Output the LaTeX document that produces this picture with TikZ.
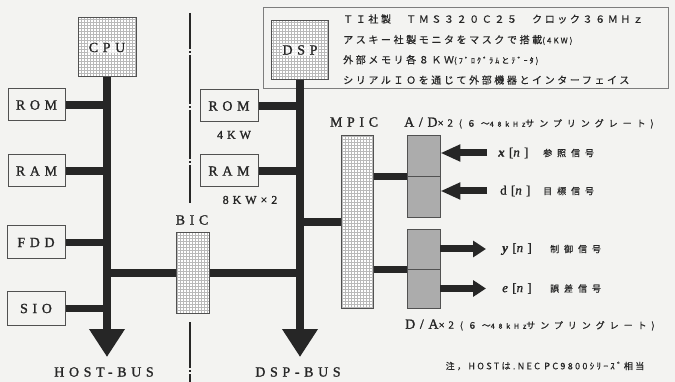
\documentclass[tikz,border=0pt]{standalone}
\usepackage{fontspec}
\setmainfont{Liberation Serif}
\newfontfamily\lbl[LetterSpace=33,FakeBold=1.3]{Liberation Serif}
\newfontfamily\jp[LetterSpace=26,FakeBold=0.5]{Noto Sans CJK JP}
\newfontfamily\jps[LetterSpace=55,FakeBold=0.8]{Noto Sans CJK JP}
\usetikzlibrary{arrows.meta,patterns}
\definecolor{bg}{RGB}{243,243,241}
\definecolor{ink}{RGB}{38,38,38}
\definecolor{boxgray}{RGB}{172,172,172}
\begin{document}
\begin{tikzpicture}[x=1pt,y=-1pt,
  plain/.style={draw=ink!80, line width=1pt, fill=bg, inner sep=0pt,
    font=\lbl\fontsize{14}{14}\selectfont, text=ink},
  gridbox/.style={draw=ink!80, line width=1pt, inner sep=0pt,
    preaction={fill=white}, pattern=grid, pattern color=gray!55},
  adbox/.style={draw=ink!80, line width=0.9pt, fill=boxgray, minimum width=33pt, inner sep=0pt},
  bus/.style={draw=ink, line width=7.5pt},
  busarrow/.style={draw=ink, line width=7.5pt, -{Triangle[width=34pt,length=28pt]}},
  sigin/.style={draw=ink, line width=7pt, -{Triangle[width=16pt,length=20pt]}},
  sigout/.style={draw=ink, line width=7pt, -{Triangle[width=16pt,length=13pt]}},
  lab/.style={font=\lbl\fontsize{14}{14}\selectfont, text=ink, inner sep=0pt},
  boxlab/.style={lab, fill=white, fill opacity=0.7, text opacity=1, inner sep=1pt},
  small/.style={font=\lbl\fontsize{12}{12}\selectfont, text=ink, inner sep=0pt},
  jtext/.style={font=\jp\fontsize{10}{10}\selectfont, text=ink, inner sep=0pt, anchor=west},
  siglab/.style={font=\lbl\fontsize{13}{13}\selectfont, text=ink, inner sep=0pt, anchor=west},
  jsig/.style={font=\jps\fontsize{9}{9}\selectfont, text=ink, inner sep=0pt, anchor=west},
  sepline/.style={draw=ink, line width=1.2pt},
]
\fill[bg] (0,0) rectangle (675,382);
\useasboundingbox (0,0) rectangle (675,382);

% info box
\node[draw=ink!60, line width=0.8pt, minimum width=405pt, minimum height=81pt, inner sep=0pt] (info) at (465.5,47.5) {};
\node[jtext] (t1) at (343,19) {ＴＩ社製　ＴＭＳ３２０Ｃ２５　クロック３６ＭＨｚ};
\node[jtext] (t2) at (343,40) {アスキー社製モニタをマスクで搭載{\fontsize{8}{8}\selectfont(4KW)}};
\node[jtext] (t3) at (343,60) {外部メモリ各８ＫＷ{\fontsize{8}{8}\selectfont(ﾌﾟﾛｸﾞﾗﾑとﾃﾞｰﾀ)}};
\node[jtext] (t4) at (343,80) {シリアルＩＯを通じて外部機器とインターフェイス};

% host side nodes
\node[gridbox, minimum width=58pt, minimum height=59pt] (cpu) at (107,47.5) {};
\node[boxlab] (cpul) at (cpu.center) {CPU};
\node[plain, minimum width=57pt, minimum height=32pt] (rom1) at (36.5,105) {ROM};
\node[plain, minimum width=57pt, minimum height=32pt] (ram1) at (36.5,171) {RAM};
\node[plain, minimum width=58pt, minimum height=33pt] (fdd) at (36,242.5) {FDD};
\node[plain, minimum width=58pt, minimum height=33pt] (sio) at (36,308.5) {SIO};

% dsp side nodes
\node[gridbox, minimum width=57pt, minimum height=59pt] (dsp) at (300,50) {};
\node[boxlab] (dspl0) at (dsp.center) {DSP};
\node[plain, minimum width=58pt, minimum height=32pt] (rom2) at (229,106) {ROM};
\node[plain, minimum width=58pt, minimum height=32pt] (ram2) at (229,171) {RAM};
\node[small] (rom2l) at (234,135) {4KW};
\node[small] (ram2l) at (250,200) {8KW×2};

\node[gridbox, minimum width=33pt, minimum height=80pt] (bic) at (192.5,273) {};
\node[lab] (bicl) at (192,220) {BIC};
\node[gridbox, minimum width=32pt, minimum height=172pt] (mpic) at (357,222) {};
\node[lab] (mpicl) at (354,122) {MPIC};

\node[adbox, minimum height=41pt] (ad1) at (423.5,155.5) {};
\node[adbox, minimum height=41pt] (ad2) at (423.5,196.5) {};
\node[adbox, minimum height=40pt] (da1) at (423.5,249) {};
\node[adbox, minimum height=39pt] (da2) at (423.5,288.5) {};

\node[lab, anchor=west] (adl) at (404,123) {A/D{\fontsize{11}{11}\selectfont ×2}\hspace{6pt}{\jps\fontsize{9}{9}\selectfont (６〜{\fontsize{7}{7}\selectfont 48kHz}サンプリングレート)}};
\node[lab, anchor=west] (dal) at (405,325) {D/A{\fontsize{11}{11}\selectfont ×2}\hspace{6pt}{\jps\fontsize{9}{9}\selectfont (６〜{\fontsize{7}{7}\selectfont 48kHz}サンプリングレート)}};

% buses
\coordinate (hbend) at (107,357);
\coordinate (dbend) at (300,357);
\draw[busarrow] (cpu.south) -- (hbend);
\draw[busarrow] (dsp.south) -- (dbend);
\draw[bus] (rom1.east) -- (rom1.east -| cpu.south);
\draw[bus] (ram1.east) -- (ram1.east -| cpu.south);
\draw[bus] (fdd.east) -- (fdd.east -| cpu.south);
\draw[bus] (sio.east) -- (sio.east -| cpu.south);
\draw[bus] (bic.west -| cpu.south) -- (bic.west);
\draw[bus] (bic.east) -- (bic.east -| dsp.south);
\draw[bus] (rom2.east) -- (rom2.east -| dsp.south);
\draw[bus] (ram2.east) -- (ram2.east -| dsp.south);
\draw[bus] (mpic.west -| dsp.south) -- (mpic.west);
\draw[bus] (mpic.east |- ad1.south) -- (ad1.south west);
\draw[bus] (mpic.east |- da1.south) -- (da1.south west);

% signals
\coordinate (xs) at (487,153);
\coordinate (ds) at (487,191);
\coordinate (ye) at (486,249);
\coordinate (ee) at (486,288.5);
\draw[sigin] (xs) -- (xs -| ad1.east);
\draw[sigin] (ds) -- (ds -| ad2.east);
\draw[sigout] (da1.east) -- (ye);
\draw[sigout] (da2.east) -- (ee);
\node[siglab] (xl) at (498,153) {\textbf{\textit{x}}[\textit{n}]};
\node[jsig] (xj) at (543,153) {参照信号};
\node[siglab] (dl) at (500,191) {d[\textit{n}]};
\node[jsig] (dj) at (543,191) {目標信号};
\node[siglab] (yl) at (502,249) {\textbf{\textit{y}}[\textit{n}]};
\node[jsig] (yj) at (550,249) {制御信号};
\node[siglab] (el) at (502,288.5) {\textit{e}[\textit{n}]};
\node[jsig] (ej) at (550,288.5) {誤差信号};

% separator
\coordinate (s1) at (190,13);
\coordinate (s2) at (190,203);
\coordinate (s3) at (190,322);
\coordinate (s4) at (190,382);
\draw[sepline, dash pattern=on 49pt off 2pt on 2pt off 2pt, dash phase=13pt] (s1) -- (s2);
\draw[sepline, dash pattern=on 49pt off 2pt on 2pt off 2pt, dash phase=3pt] (s3) -- (s4);

% bottom labels
\node[lab] (hostl) at (104,372) {HOST-BUS};
\node[lab] (dspl) at (298,372) {DSP-BUS};
\node[font=\jp\fontsize{9}{9}\selectfont, text=ink, inner sep=0pt] (note) at (545,366) {注，HOSTは.NEC PC9800ｼﾘｰｽﾞ相当};
\end{tikzpicture}
\end{document}
